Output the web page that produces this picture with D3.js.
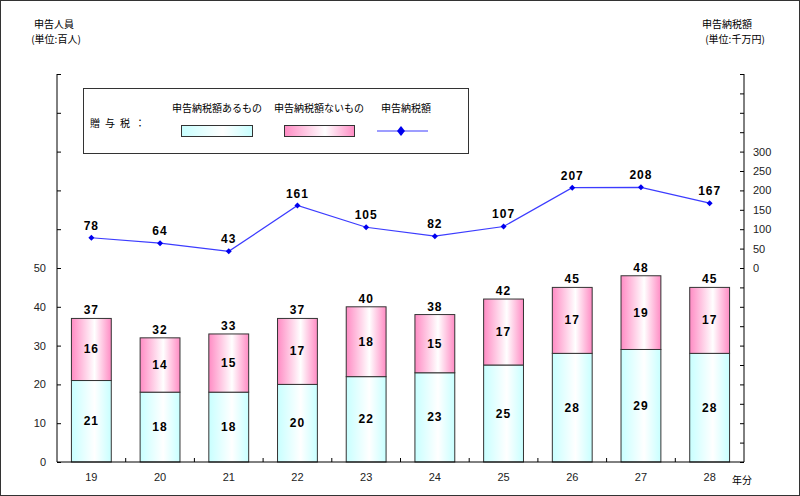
<!DOCTYPE html>
<html><head><meta charset="utf-8">
<script src="https://cdn.jsdelivr.net/npm/d3@7"></script>
<style>
body{margin:0;background:#fff;}
svg{display:block;}
text{font-family:"Liberation Sans",Arial,sans-serif;}
.jp{font-family:"Noto Sans CJK JP",sans-serif;}
</style></head><body>
<svg id="c" width="800" height="496"></svg>
<script>
const years = ["19","20","21","22","23","24","25","26","27","28"];
const withTax = [21,18,18,20,22,23,25,28,29,28];
const withoutTax = [16,14,15,17,18,15,17,17,19,17];
const totals = [37,32,33,37,40,38,42,45,48,45];
const taxAmount = [78,64,43,161,105,82,107,207,208,167];
const leftTicks = [0,10,20,30,40,50,60,70,80,90,100];
const leftLabels = [0,10,20,30,40,50];
const rightTicks = d3.range(-500,501,50);
const rightLabels = [0,50,100,150,200,250,300];

const svg = d3.select("#c");
const L=57, R=744, T=74, B=462;

const defs = svg.append("defs");
function grad(id,c){
  const g=defs.append("linearGradient").attr("id",id).attr("x1","0%").attr("x2","100%");
  g.append("stop").attr("offset","0%").attr("stop-color",c);
  g.append("stop").attr("offset","58%").attr("stop-color","#ffffff");
  g.append("stop").attr("offset","100%").attr("stop-color",c);
}
grad("gb","#c8ffff");
grad("gp","#ff8cc4");

svg.append("rect").attr("x",0.5).attr("y",0.5).attr("width",799).attr("height",495)
  .attr("fill","#fff").attr("stroke","#333");

const x = d3.scaleBand().domain(years).range([L,R]).paddingInner(0.42).paddingOuter(0.21);
const xb = d3.scaleBand().domain(years).range([L,R]);
const yL = d3.scaleLinear().domain([0,100]).range([B,T]);
const yR = d3.scaleLinear().domain([-500,500]).range([B,T]);

// bars
const g = svg.append("g");
years.forEach((yr,i)=>{
  g.append("rect").attr("x",x(yr)).attr("y",yL(withTax[i])).attr("width",x.bandwidth())
    .attr("height",yL(0)-yL(withTax[i])).attr("fill","url(#gb)").attr("stroke","#333").attr("stroke-width",1);
  g.append("rect").attr("x",x(yr)).attr("y",yL(totals[i])).attr("width",x.bandwidth())
    .attr("height",yL(withTax[i])-yL(totals[i])).attr("fill","url(#gp)").attr("stroke","#333").attr("stroke-width",1);
  const cx = x(yr)+x.bandwidth()/2;
  g.append("text").attr("x",cx).attr("y",(yL(0)+yL(withTax[i]))/2+4).attr("text-anchor","middle")
    .attr("font-size",12).attr("font-weight","bold").attr("letter-spacing",1).text(withTax[i]);
  g.append("text").attr("x",cx).attr("y",(yL(withTax[i])+yL(totals[i]))/2+4).attr("text-anchor","middle")
    .attr("font-size",12).attr("font-weight","bold").attr("letter-spacing",1).text(withoutTax[i]);
  g.append("text").attr("x",cx).attr("y",yL(totals[i])-4).attr("text-anchor","middle")
    .attr("font-size",12).attr("font-weight","bold").attr("letter-spacing",1).text(totals[i]);
});

// axes
const axL = svg.append("g").attr("transform",`translate(${L},0)`)
  .call(d3.axisRight(yL).tickValues(leftTicks).tickSize(4).tickFormat(""));
axL.select(".domain").attr("d",`M0,${T}V${B}`);
svg.append("g").selectAll("text").data(leftLabels).join("text")
  .attr("x",L-11).attr("y",d=>yL(d)+4).attr("text-anchor","end").attr("font-size",11).attr("fill","#222").text(d=>d);

const axR = svg.append("g").attr("transform",`translate(${R},0)`)
  .call(d3.axisLeft(yR).tickValues(rightTicks).tickSize(4).tickFormat(""));
axR.select(".domain").attr("d",`M0,${T}V${B}`);
svg.append("g").selectAll("text").data(rightLabels).join("text")
  .attr("x",R+9).attr("y",d=>yR(d)+4).attr("text-anchor","start").attr("font-size",11).attr("fill","#222").text(d=>d);

const axB = svg.append("g").attr("transform",`translate(0,${B})`)
  .call(d3.axisTop(xb).tickValues([]).tickSize(0));
axB.select(".domain").attr("d",`M${L},0H${R}`);
svg.append("g").selectAll("line").data(years.slice(1)).join("line")
  .attr("x1",d=>xb(d)).attr("x2",d=>xb(d)).attr("y1",B).attr("y2",B-4).attr("stroke","#000");
svg.append("g").selectAll("text").data(years).join("text")
  .attr("x",d=>xb(d)+xb.bandwidth()/2).attr("y",B+19).attr("text-anchor","middle").attr("font-size",11).attr("fill","#222").text(d=>d);
svg.selectAll(".domain").attr("stroke","#000");
svg.selectAll(".tick line").attr("stroke","#000");

// line
const line = d3.line().x((d,i)=>xb(years[i])+xb.bandwidth()/2).y(d=>yR(d));
svg.append("path").datum(taxAmount).attr("d",line).attr("fill","none").attr("stroke","#3c3cff").attr("stroke-width",1.2);
svg.append("g").selectAll("path").data(taxAmount).join("path")
  .attr("transform",(d,i)=>`translate(${xb(years[i])+xb.bandwidth()/2},${yR(d)})`)
  .attr("d","M0,-3L3,0L0,3L-3,0Z").attr("fill","#0000ee");
svg.append("g").selectAll("text").data(taxAmount).join("text")
  .attr("x",(d,i)=>xb(years[i])+xb.bandwidth()/2).attr("y",d=>yR(d)-8).attr("text-anchor","middle")
  .attr("font-size",12).attr("font-weight","bold").attr("letter-spacing",1).text(d=>d);

// titles
svg.append("text").attr("class","jp").attr("x",54).attr("y",28).attr("text-anchor","middle").attr("font-size",10).text("申告人員");
svg.append("text").attr("class","jp").attr("x",56).attr("y",43).attr("text-anchor","middle").attr("font-size",10).text("(単位:百人)");
svg.append("text").attr("class","jp").attr("x",727).attr("y",28).attr("text-anchor","middle").attr("font-size",10).text("申告納税額");
svg.append("text").attr("class","jp").attr("x",735).attr("y",43).attr("text-anchor","middle").attr("font-size",10).text("(単位:千万円)");
svg.append("text").attr("class","jp").attr("x",742).attr("y",484).attr("text-anchor","middle").attr("font-size",10).text("年分");

// legend
const lg = svg.append("g");
lg.append("rect").attr("x",83.5).attr("y",88.5).attr("width",385).attr("height",65).attr("fill","#fff").attr("stroke","#333");
lg.append("text").attr("class","jp").attr("x",90).attr("y",127).attr("font-size",10).attr("letter-spacing",5).text("贈与税：");
lg.append("text").attr("class","jp").attr("x",217).attr("y",112).attr("text-anchor","middle").attr("font-size",10).text("申告納税額あるもの");
lg.append("rect").attr("x",181.5).attr("y",125.5).attr("width",71).attr("height",11).attr("fill","url(#gb)").attr("stroke","#333");
lg.append("text").attr("class","jp").attr("x",319).attr("y",112).attr("text-anchor","middle").attr("font-size",10).text("申告納税額ないもの");
lg.append("rect").attr("x",284.5).attr("y",125.5).attr("width",70).attr("height",11).attr("fill","url(#gp)").attr("stroke","#333");
lg.append("text").attr("class","jp").attr("x",406).attr("y",112).attr("text-anchor","middle").attr("font-size",10).text("申告納税額");
lg.append("line").attr("x1",377).attr("x2",428).attr("y1",131).attr("y2",131).attr("stroke","#3c3cff").attr("stroke-width",1.2);
lg.append("path").attr("transform","translate(401,131)").attr("d","M0,-5L4,0L0,5L-4,0Z").attr("fill","#0000ee");
</script>
</body></html>
